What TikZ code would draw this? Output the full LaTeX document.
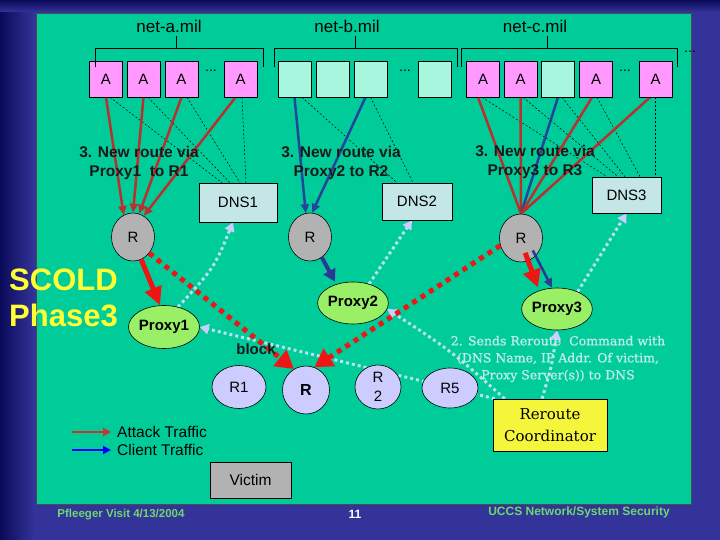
\documentclass[tikz,border=0pt]{standalone}
\usepackage{fontspec}
\setmainfont{Liberation Sans}
\newfontfamily\dvserif{DejaVu Serif}
\newfontfamily\dvserifb{DejaVu Serif}[FakeBold=0.8]
\usetikzlibrary{shapes.geometric,arrows.meta}
\definecolor{slide}{RGB}{51,51,153}
\definecolor{navy}{RGB}{10,10,90}
\definecolor{panel}{RGB}{0,204,153}
\definecolor{pinkA}{RGB}{255,153,255}
\definecolor{lightbox}{RGB}{166,247,221}
\definecolor{dnsfill}{RGB}{196,230,230}
\definecolor{greyR}{RGB}{178,178,178}
\definecolor{proxyG}{RGB}{153,240,102}
\definecolor{lav}{RGB}{204,204,255}
\definecolor{coordY}{RGB}{245,245,60}
\definecolor{scold}{RGB}{255,255,51}
\definecolor{dred}{RGB}{184,49,47}
\definecolor{dblue}{RGB}{35,70,155}
\definecolor{pblue}{RGB}{43,56,150}
\definecolor{bred}{RGB}{240,20,20}
\definecolor{lcyan}{RGB}{180,228,240}
\definecolor{ltext}{RGB}{192,236,236}
\definecolor{foot}{RGB}{108,216,108}
\definecolor{legred}{RGB}{204,51,51}
\definecolor{legblue}{RGB}{0,0,255}
\definecolor{darktext}{RGB}{25,25,25}
\pgfdeclarelayer{base}
\pgfdeclarelayer{bg}
\pgfsetlayers{base,bg,main}
\begin{document}
\begin{tikzpicture}[x=1pt,y=-1pt,
  abox/.style={draw=black,line width=0.6,fill=pinkA,minimum width=33,minimum height=36,inner sep=0,font=\fontsize{15}{15}\selectfont},
  lbox/.style={abox,fill=lightbox},
  dnsbox/.style={draw=black,line width=0.6,fill=dnsfill,inner sep=0,font=\fontsize{15}{15}\selectfont},
  rnode/.style={ellipse,draw=black,line width=0.6,fill=greyR,minimum width=43,minimum height=48,inner sep=0,font=\fontsize{15}{15}\selectfont},
  proxy/.style={ellipse,draw=black,line width=0.6,fill=proxyG,minimum width=70,minimum height=42,inner sep=0,font=\bfseries\fontsize{15}{15}\selectfont},
  lavn/.style={ellipse,draw=black,line width=0.6,fill=lav,inner sep=0,font=\fontsize{15}{15}\selectfont},
  netlbl/.style={font=\fontsize{17}{17}\selectfont,text=black},
  routelbl/.style={font=\bfseries\fontsize{15.5}{19}\selectfont,text=darktext,align=center},
  bracket/.style={draw=black,line width=0.7},
  dnsdash/.style={draw=black,line width=0.5,dash pattern=on 2pt off 2pt},
  redsolid/.style={draw=dred,line width=2.5,-{Triangle[width=8,length=9]}},
  redline/.style={draw=dred,line width=2.5},
  bluesolid/.style={draw=dblue,line width=2.5,-{Triangle[width=8,length=9]}},
  blueline/.style={draw=dblue,line width=2.5},
  lightdot/.style={draw=lcyan,line width=3,dash pattern=on 3pt off 3pt,-{Triangle[width=10,length=9,color=lav]}},
  reddot/.style={draw=bred,line width=5,dash pattern=on 5pt off 5pt,-{Triangle[width=20,length=18]}},
  redthick/.style={draw=bred,line width=5,-{Triangle[width=17,length=18]}},
  dots/.style={font=\fontsize{14}{14}\selectfont,inner sep=0}
]
\useasboundingbox (0,0) rectangle (720,540);
\begin{pgfonlayer}{base}
  \fill[slide] (0,0) rectangle (720,540);
  \shade[left color=navy,right color=slide] (0,0) rectangle (34,540);
  \shade[top color=navy,bottom color=slide] (0,0) rectangle (720,12);
  \fill[panel,draw=black!70,line width=0.8] (36,13) rectangle (691,504);
\end{pgfonlayer}

% network labels
\node[netlbl] (neta) at (169,26) {net-a.mil};
\node[netlbl] (netb) at (347,26) {net-b.mil};
\node[netlbl] (netc) at (535,26) {net-c.mil};

% boxes
\node[abox] (a1) at (106,79) {A};
\node[abox] (a2) at (143.5,79) {A};
\node[abox] (a3) at (181.5,79) {A};
\node[dots] (da) at (211,71) {...};
\node[abox] (a4) at (240.5,79) {A};
\node[lbox] (b1) at (294.5,79) {};
\node[lbox] (b2) at (332.5,79) {};
\node[lbox] (b3) at (370.5,79) {};
\node[dots] (db) at (405,71) {...};
\node[lbox] (b4) at (434.5,79) {};
\node[abox] (c1) at (483,79) {A};
\node[abox] (c2) at (520.5,79) {A};
\node[lbox] (c3) at (558,79) {};
\node[abox] (c4) at (596,79) {A};
\node[dots] (dc) at (625,71) {...};
\node[abox] (c5) at (655.5,79) {A};
\node[dots] (dd) at (690,52) {...};

% brackets
\draw[bracket] (95,67) -- (95,48) -- (263,48) -- (263,67) (176,36) -- (176,48);
\draw[bracket] (274,67) -- (274,48) -- (457,48) -- (457,67) (355,36) -- (355,48);
\draw[bracket] (461,67) -- (461,48) -- (677,48) -- (677,67) (547,36) -- (547,48);

% DNS boxes
\node[dnsbox,minimum width=78,minimum height=39] (dns1) at (238,202.5) {DNS1};
\node[dnsbox,minimum width=70,minimum height=37] (dns2) at (417,201.5) {DNS2};
\node[dnsbox,minimum width=69,minimum height=36] (dns3) at (626.5,195) {DNS3};

% routers
\node[rnode] (r1) at (133,237) {R};
\node[rnode] (r2) at (310,237) {R};
\node[rnode] (r3) at (521,238) {R};

% proxies
\node[proxy,minimum width=71,minimum height=43] (p1) at (164,327) {Proxy1};
\node[proxy] (p2) at (353,303) {Proxy2};
\node[proxy] (p3) at (557,309) {Proxy3};

% bottom routers
\node[lavn,minimum width=54,minimum height=43] (q1) at (239,387) {R1};
\node[lavn,minimum width=47,minimum height=48,font=\bfseries\fontsize{16}{16}\selectfont] (qr) at (306,390) {R};
\node[lavn,minimum width=46,minimum height=44,align=center,font=\fontsize{15}{19}\selectfont] (q2) at (378,387) {R\\2};
\node[lavn,minimum width=56,minimum height=40] (q5) at (450,388) {R5};

% coordinator & victim
\node[draw=black,line width=0.6,fill=coordY,minimum width=114,minimum height=52,inner sep=0,align=center,font=\dvserif\fontsize{15}{22}\selectfont] (coord) at (550,425) {Reroute\\Coordinator};
\node[draw=black,line width=0.6,fill=greyR,minimum width=81,minimum height=36,inner sep=0,font=\fontsize{15.5}{15}\selectfont] (victim) at (250.5,480) {Victim};

\begin{pgfonlayer}{bg}
  % dashed lines to DNS
  \draw[dnsdash] ([xshift=4]a1.south) -- ([xshift=-16]dns1.north);
  \draw[dnsdash] ([xshift=4.5]a2.south) -- ([xshift=-8]dns1.north);
  \draw[dnsdash] ([xshift=5.5]a3.south) -- ([xshift=2]dns1.north);
  \draw[dnsdash] ([xshift=1.5]a4.south) -- ([xshift=8]dns1.north);
  \draw[dnsdash] ([xshift=7.5]b1.south) -- ([xshift=-20]dns2.north);
  \draw[dnsdash] (b3.south) -- ([xshift=-4]dns2.north);
  \draw[dnsdash] ([xshift=-1]c1.south) -- ([xshift=-19.5]dns3.north);
  \draw[dnsdash] ([xshift=2.5]c2.south) -- ([xshift=-8.5]dns3.north);
  \draw[dnsdash] ([xshift=4]c3.south) -- ([xshift=-1.5]dns3.north);
  \draw[dnsdash] ([xshift=1]c4.south) -- ([xshift=13.5]dns3.north);
  \draw[dnsdash] ([xshift=-0.5]c5.south) -- ([xshift=28.5]dns3.north);
  % traffic to routers
  \draw[redsolid] (a1.south) -- (r1.113);
  \draw[redsolid] (a2.south) -- (r1.90);
  \draw[redsolid] (a3.south) -- (r1.75);
  \draw[redsolid] ([xshift=-5]a4.south) -- (r1.63);
  \draw[bluesolid] (b1.south) -- (r2.100);
  \draw[bluesolid] ([xshift=-5]b3.south) -- (r2.85);
  \draw[redline] ([xshift=-5]c1.south) -- (r3.north);
  \draw[redline] (c2.south) -- (r3.north);
  \draw[blueline] (c3.south) -- (r3.north);
  \draw[redline] ([xshift=-4]c4.south) -- (r3.north);
  \draw[redline] ([xshift=-5.5]c5.south) -- (r3.north);
  % reroute commands
  \draw[lightdot] (p1.55) .. controls (214,268) .. ([xshift=-5]dns1.south);
  \draw[lightdot] (p2.50) -- ([xshift=-5]dns2.south);
  \draw[lightdot] (p3.40) -- (dns3.south);
  \draw[lightdot] ([xshift=2]coord.north west) -- (p1.east);
  \draw[lightdot] ([xshift=12]coord.north west) .. controls (450,350) .. (p2.-10);
  \draw[lightdot] ([xshift=-8]coord.north) .. controls (552,365) .. (p3.south);
\end{pgfonlayer}

% attack reroute
\draw[redthick] (r1.-70) -- ([xshift=-4]p1.north);
\draw[reddot] (r1.-45) -- (qr.120);
\draw[reddot] (r3.200) -- (qr.70);
\draw[redthick] ([yshift=9]r3.-80) -- ([xshift=-19]p3.north);
\draw[draw=pblue,line width=2.5,-{Triangle[width=8,length=9]}] ([yshift=8]r3.-60) -- ([xshift=-5]p3.north);
\draw[draw=pblue,line width=4,-{Triangle[width=13,length=12]}] (r2.-60) -- ([xshift=-18]p2.north);

% labels
\node[routelbl] (l1) at (139,163) {3. New route via\\Proxy1 \ to R1};
\node[routelbl] (l2) at (341,163) {3. New route via\\Proxy2 to R2};
\node[routelbl] (l3) at (535,162) {3. New route via\\Proxy3 to R3};
\node[font=\bfseries\fontsize{31}{36}\selectfont,text=scold,align=left,anchor=west,inner sep=0] (sc) at (9,298) {SCOLD\\Phase3};
\node[font=\bfseries\fontsize{15}{15}\selectfont,text=darktext] (blk) at (256,349) {block};
\node[font=\dvserifb\fontsize{12.5}{17}\selectfont,text=ltext,align=center] (cmd) at (558,359) {2. Sends Reroute \ Command with\\(DNS Name, IP Addr. Of victim,\\Proxy Server(s)) to DNS};

% legend
\coordinate (lr0) at (72,432); \coordinate (lr1) at (111,432);
\coordinate (lb0) at (72,450); \coordinate (lb1) at (111,450);
\draw[legred,line width=2.5,-{Triangle[width=8,length=8]}] (lr0) -- (lr1);
\draw[legblue,line width=2.5,-{Triangle[width=8,length=8]}] (lb0) -- (lb1);
\node[anchor=west,inner sep=0,font=\fontsize{15.5}{15}\selectfont] (lt1) at (117,432) {Attack Traffic};
\node[anchor=west,inner sep=0,font=\fontsize{15.5}{15}\selectfont] (lt2) at (117,450) {Client Traffic};

% footer
\node[font=\bfseries\fontsize{11.5}{12}\selectfont,text=foot] (f1) at (121,515) {Pfleeger Visit 4/13/2004};
\node[font=\bfseries\fontsize{12}{12}\selectfont,text=white] (f2) at (355,514) {11};
\node[font=\bfseries\fontsize{12}{12}\selectfont,text=foot] (f3) at (579,512) {UCCS Network/System Security};
\end{tikzpicture}
\end{document}
